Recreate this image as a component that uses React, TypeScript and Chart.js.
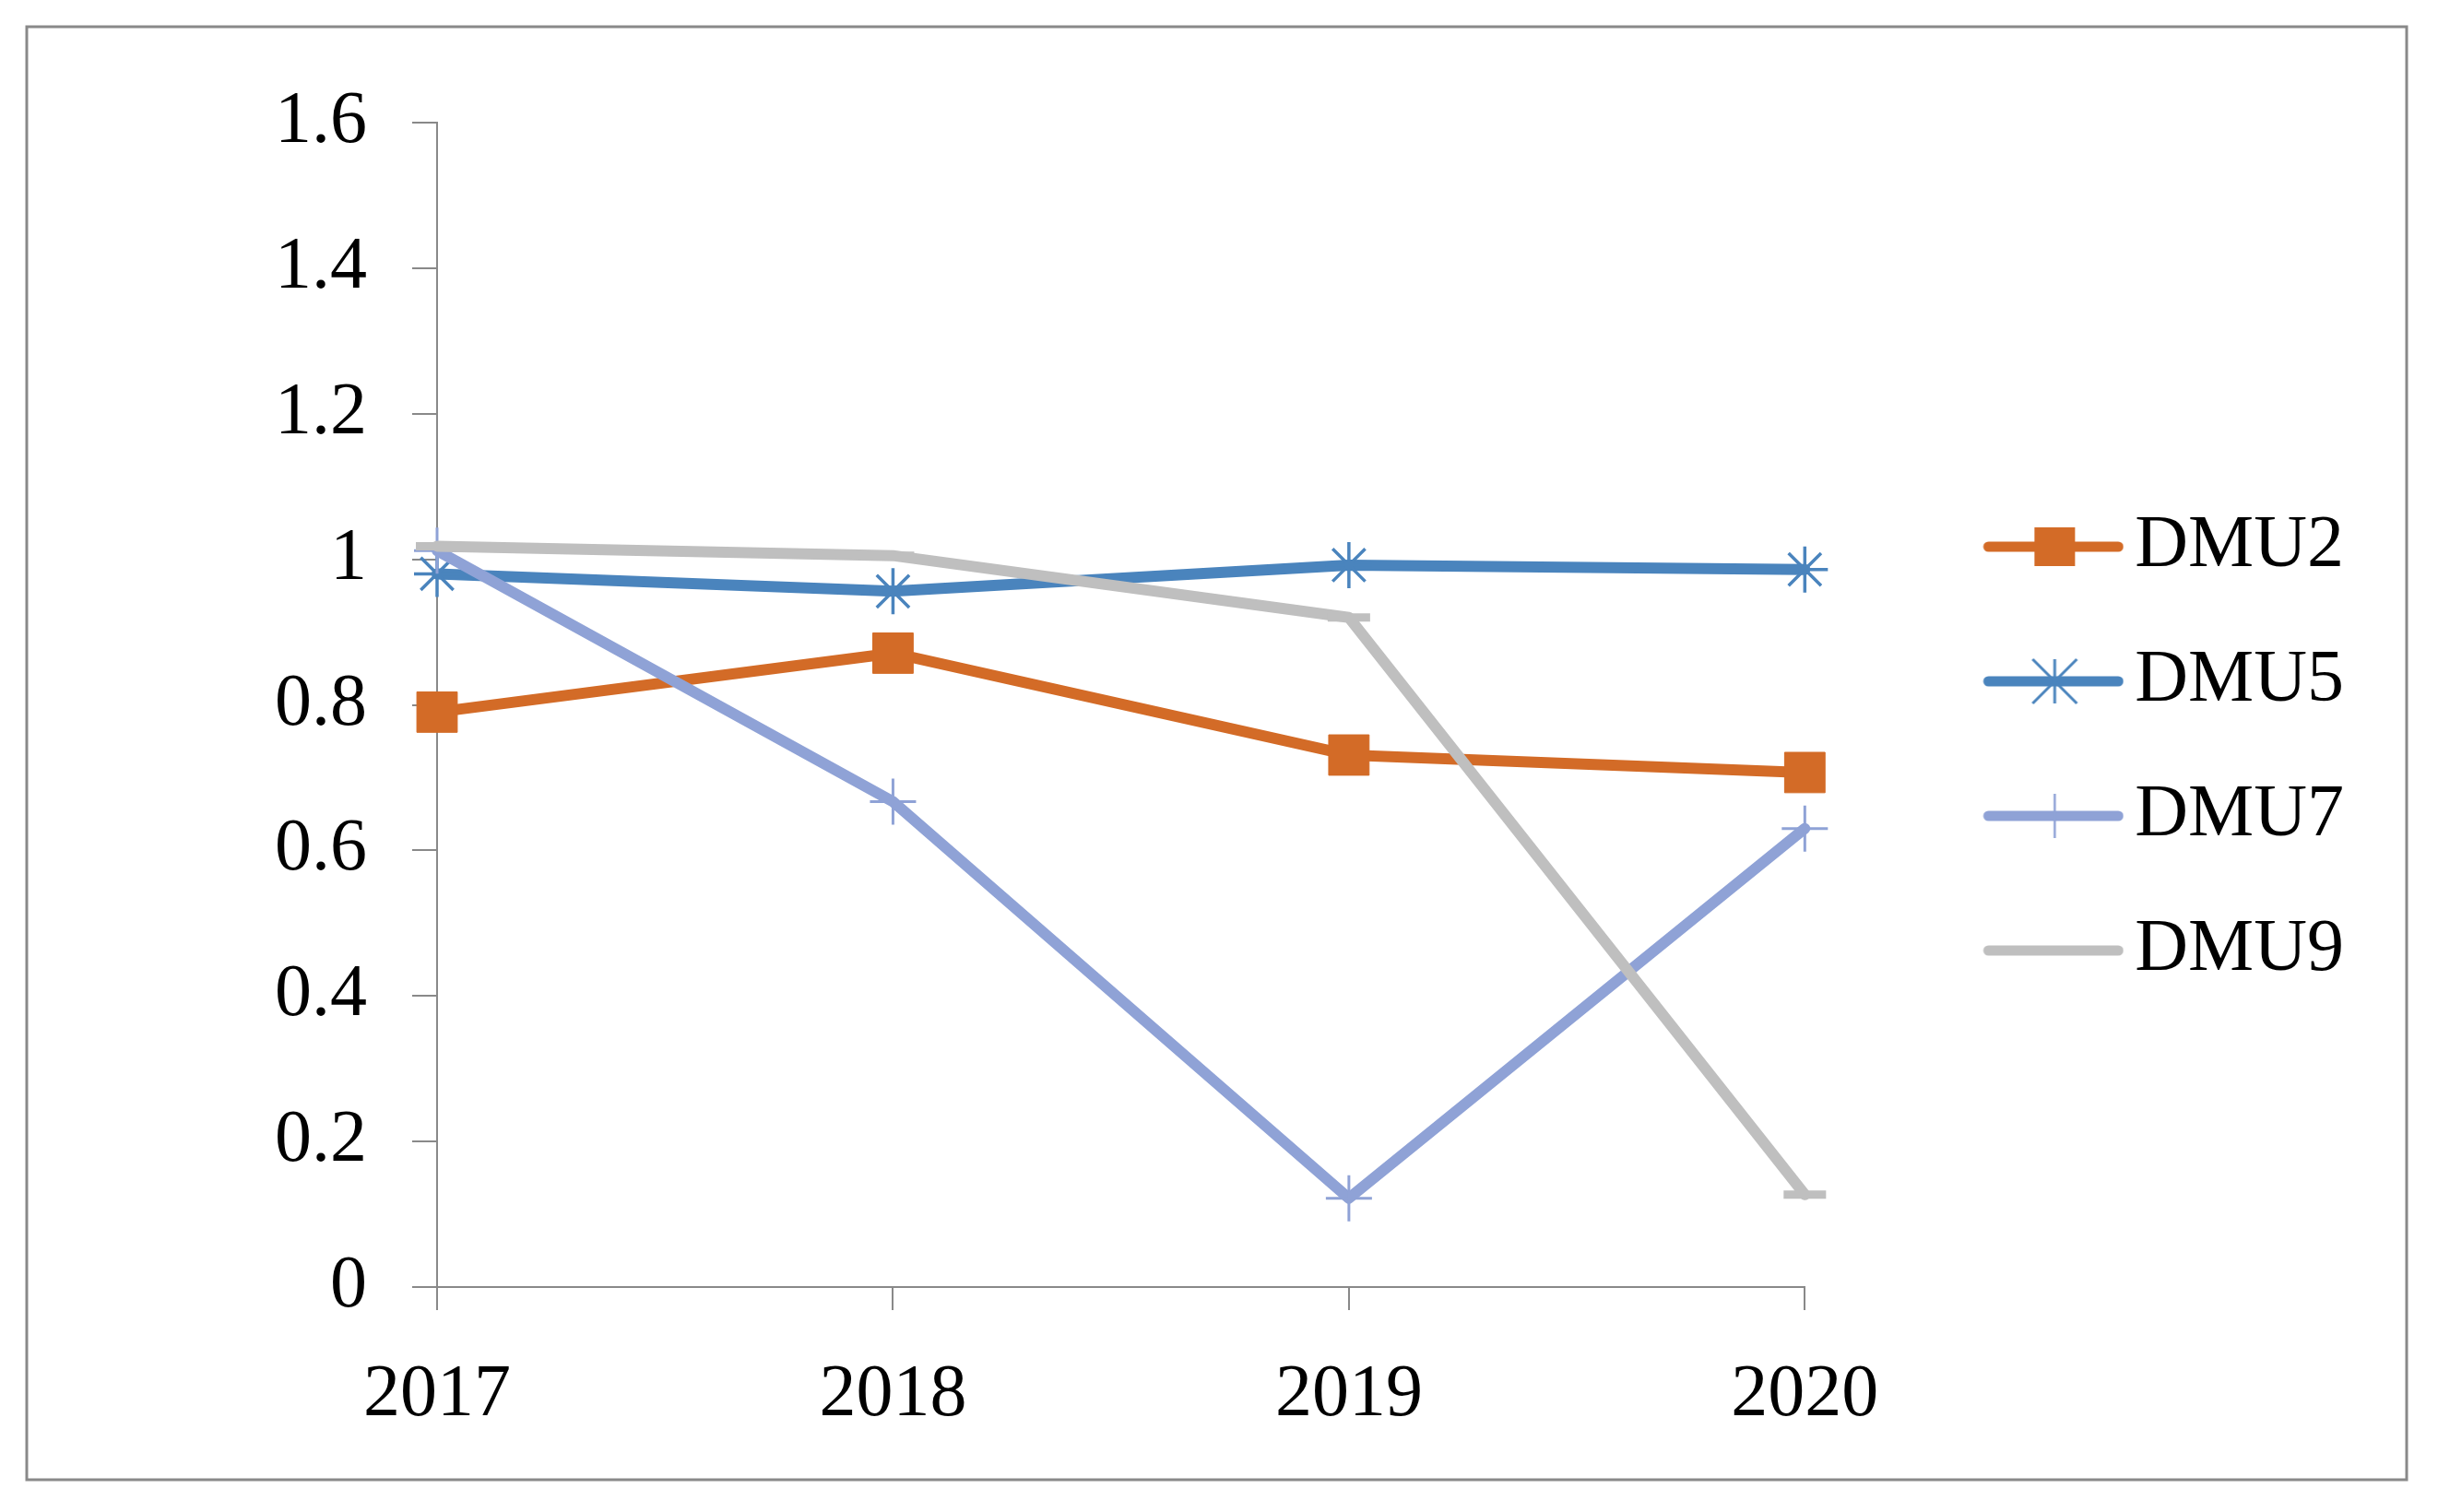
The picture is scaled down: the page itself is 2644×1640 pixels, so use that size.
import React, { useEffect, useRef } from 'react';
import { Chart, registerables } from 'chart.js';

Chart.register(...registerables);

// ---- data ----
const years = ['2017', '2018', '2019', '2020'];
const seriesNames = ['DMU2', 'DMU5', 'DMU7', 'DMU9'];
const dmu2 = [0.79, 0.871, 0.731, 0.707];
const dmu5 = [0.98, 0.956, 0.992, 0.986];
const dmu7 = [1.012, 0.667, 0.122, 0.63];
const dmu9 = [1.018, 1.005, 0.92, 0.127];
const yTicks = [0, 0.2, 0.4, 0.6, 0.8, 1, 1.2, 1.4, 1.6];
const yTickLabels = ['0', '0.2', '0.4', '0.6', '0.8', '1', '1.2', '1.4', '1.6'];

// ---- styles ----
const colors = ['#D36B27', '#4A84BD', '#8FA2D6', '#BFBFBF'];
const FONT = "'Liberation Serif', 'Times New Roman', serif";
const AXIS = '#898989';

function makeIcon(i: number): HTMLCanvasElement {
  const W = 308;
  const H = 64;
  const c = document.createElement('canvas');
  c.width = W;
  c.height = H;
  const ctx = c.getContext('2d')!;
  const cy = H / 2;
  const col = colors[i];
  ctx.strokeStyle = col;
  ctx.lineWidth = 11;
  ctx.lineCap = 'round';
  ctx.beginPath();
  ctx.moveTo(161, cy);
  ctx.lineTo(W - 6, cy);
  ctx.stroke();
  const mx = 233;
  if (i === 0) {
    ctx.fillStyle = col;
    ctx.fillRect(mx - 22, cy - 21, 44, 42);
  } else if (i === 1) {
    ctx.lineWidth = 3;
    ctx.lineCap = 'butt';
    ctx.beginPath();
    ctx.moveTo(mx, cy - 24);
    ctx.lineTo(mx, cy + 24);
    ctx.moveTo(mx - 24, cy - 24);
    ctx.lineTo(mx + 24, cy + 24);
    ctx.moveTo(mx + 24, cy - 24);
    ctx.lineTo(mx - 24, cy + 24);
    ctx.stroke();
  } else if (i === 2) {
    ctx.lineWidth = 2.5;
    ctx.lineCap = 'butt';
    ctx.beginPath();
    ctx.moveTo(mx, cy - 24);
    ctx.lineTo(mx, cy + 24);
    ctx.stroke();
  }
  return c;
}

const framePlugin = {
  id: 'frame',
  beforeDraw(chart: any) {
    const ctx = chart.ctx;
    ctx.save();
    ctx.fillStyle = '#ffffff';
    ctx.fillRect(0, 0, chart.width, chart.height);
    ctx.strokeStyle = AXIS;
    ctx.lineWidth = 3;
    ctx.strokeRect(29, 29, 2581, 1576);
    ctx.restore();
  },
};

export default function App() {
  const ref = useRef<HTMLCanvasElement>(null);

  useEffect(() => {
    const canvas = ref.current!;
    const icons = seriesNames.map((_, i) => makeIcon(i));
    const values = [dmu2, dmu5, dmu7, dmu9];
    const styles = ['rect', 'star', 'cross', 'line'];
    const radii = [31, 25, 25, 23];
    const pbw = [1, 3.5, 3, 9];

    const datasets = seriesNames.map((name, i) => ({
      label: name,
      data: values[i],
      borderColor: colors[i],
      backgroundColor: colors[i],
      borderWidth: 12,
      borderCapStyle: 'round',
      borderJoinStyle: 'round',
      pointStyle: styles[i],
      pointRadius: radii[i],
      pointBorderColor: colors[i],
      pointBackgroundColor: colors[i],
      pointBorderWidth: pbw[i],
      tension: 0,
      fill: false,
      order: 3 - i,
    }));

    const chart = new Chart(canvas, {
      type: 'line',
      data: { labels: years, datasets: datasets as any },
      options: {
        responsive: false,
        animation: false,
        devicePixelRatio: 1,
        layout: { padding: { left: 29, top: 68, right: 92, bottom: 84 } },
        plugins: {
          tooltip: { enabled: false },
          title: {
            display: true,
            text: ' ',
            font: { family: FONT, size: 65, lineHeight: 1 },
            padding: 0,
          },
          legend: {
            position: 'right',
            align: 'center',
            labels: {
              font: { family: FONT, size: 80 },
              color: '#000',
              usePointStyle: true,
              pointStyleWidth: 252,
              padding: 66,
              generateLabels: () =>
                seriesNames.map((n, i) => ({
                  text: n,
                  pointStyle: icons[i] as any,
                  datasetIndex: i,
                  fillStyle: 'transparent',
                  strokeStyle: 'transparent',
                  lineWidth: 0,
                  hidden: false,
                  fontColor: '#000',
                })),
            },
          },
        },
        scales: {
          x: {
            type: 'category',
            offset: false,
            grid: {
              display: true,
              drawOnChartArea: false,
              drawTicks: true,
              tickLength: 25,
              color: AXIS,
              lineWidth: 2,
            },
            border: { display: true, color: AXIS, width: 2 },
            ticks: {
              font: { family: FONT, size: 80 },
              color: '#000',
              padding: 45,
              maxRotation: 0,
              autoSkip: false,
            },
            afterFit: (s: any) => {
              s.height = 160;
            },
          },
          y: {
            min: 0,
            max: 1.6,
            grid: {
              display: true,
              drawOnChartArea: false,
              drawTicks: true,
              tickLength: 27,
              color: AXIS,
              lineWidth: 2,
            },
            border: { display: true, color: AXIS, width: 2 },
            afterBuildTicks: (s: any) => {
              s.ticks = yTicks.map((v) => ({ value: v }));
            },
            ticks: {
              font: { family: FONT, size: 80 },
              color: '#000',
              padding: 49,
              callback: (v: any) => {
                const idx = yTicks.findIndex((t) => Math.abs(t - Number(v)) < 1e-6);
                return idx >= 0 ? yTickLabels[idx] : '';
              },
            },
            afterFit: (s: any) => {
              s.width = 445;
            },
          },
        },
      },
      plugins: [framePlugin],
    });
    return () => chart.destroy();
  }, []);

  return (
    <div style={{ position: 'absolute', left: 0, top: 0, width: 2644, height: 1640, background: '#fff' }}>
      <canvas ref={ref} width={2644} height={1640} style={{ display: 'block', width: 2644, height: 1640 }} />
    </div>
  );
}
